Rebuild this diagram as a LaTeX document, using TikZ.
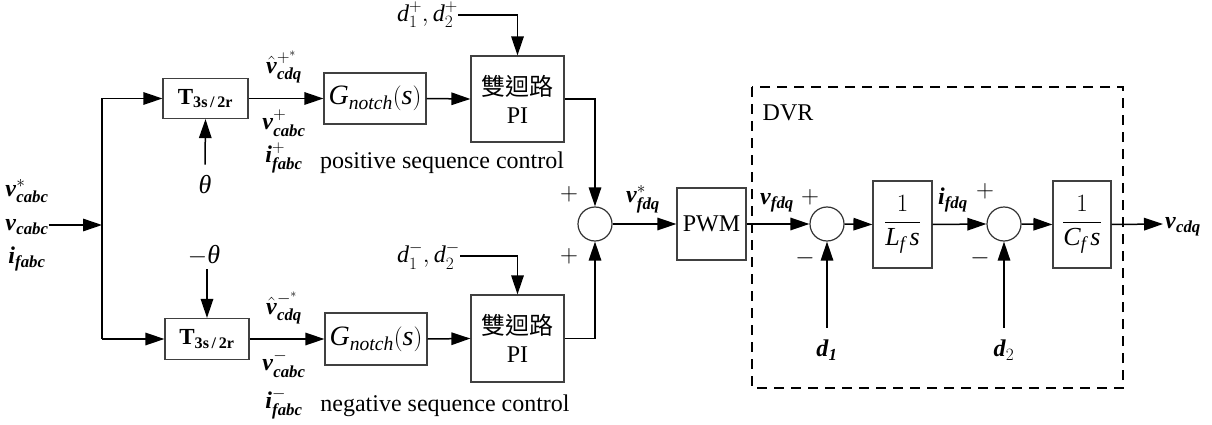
\documentclass[tikz,border=0pt]{standalone}
\usepackage{amsmath}
\usepackage{fontspec}
\setmainfont{Liberation Serif}
\newfontfamily\cjk{Noto Sans CJK TC}
\usetikzlibrary{arrows.meta}
\newcommand{\bi}[1]{\textbf{\textit{#1}}}
\newcommand{\ti}[1]{\textit{#1}}
\tikzset{
  every node/.style={font=\fontsize{24}{28}\selectfont},
  block/.style={draw=black!75, line width=1.2pt, fill=white, inner sep=0pt, align=center},
  sumc/.style={circle, draw=black!80, line width=1.2pt, fill=white, minimum size=34pt, inner sep=0pt},
  sig/.style={line width=1.5pt, -{Triangle[length=19pt,width=12.5pt]}},
  wire/.style={line width=1.5pt},
  lab/.style={inner sep=0pt},
  dvrbox/.style={line width=1.2pt, dash pattern=on 10pt off 7pt},
}
\begin{document}
\begin{tikzpicture}[x=1pt,y=-1pt]
\useasboundingbox (0,0) rectangle (1212,425);

% blocks
\node[block, minimum width=85pt, minimum height=40pt, font=\fontsize{23}{26}\selectfont] (T1) at (205.5,98.5) {$\textbf{T}_{\textbf{3s\,/\,2r}}$};
\node[block, minimum width=84pt, minimum height=41pt, font=\fontsize{23}{26}\selectfont] (T2) at (207,339) {$\textbf{T}_{\textbf{3s\,/\,2r}}$};
\node[block, minimum width=102pt, minimum height=51pt, font=\fontsize{28}{32}\selectfont] (G1) at (375,98.5) {$\ti{G}_{\ti{notch}}(\ti{s})$};
\node[block, minimum width=102pt, minimum height=52pt, font=\fontsize{28}{32}\selectfont] (G2) at (376,339) {$\ti{G}_{\ti{notch}}(\ti{s})$};
\node[block, minimum width=93pt, minimum height=86pt] (PI1) at (517.5,99) {{\cjk 雙迴路}\\PI};
\node[block, minimum width=93pt, minimum height=87pt] (PI2) at (517.5,338.5) {{\cjk 雙迴路}\\PI};
\node[sumc] (S1) at (595,224) {};
\node[block, minimum width=69pt, minimum height=72pt] (PWM) at (711.5,224) {PWM};
\node[sumc] (S2) at (827,224) {};
\node[block, minimum width=59pt, minimum height=87pt, font=\fontsize{26}{30}\selectfont] (Lf) at (902.5,224.5) {$\dfrac{1}{\ti{L}_{\ti{f}}\,\ti{s}}$};
\node[sumc] (S3) at (1004,224) {};
\node[block, minimum width=58pt, minimum height=87pt, font=\fontsize{26}{30}\selectfont] (Cf) at (1082,224.5) {$\dfrac{1}{\ti{C}_{\ti{f}}\,\ti{s}}$};

% DVR box
\draw[dvrbox] (752,87) rectangle (1123,388);
\node[lab] (dvr) at (788,113) {DVR};

% input labels
\node[lab] (vs) at (27,191) {$\bi{v}^{*}_{\bi{cabc}}$};
\node[lab] (vc) at (27,227) {$\bi{v}_{\bi{cabc}}$};
\node[lab] (if) at (27,259) {$\ti{\textbf{i}}_{\bi{fabc}}$};
\coordinate (J) at (102,225);
\draw[sig] (vc.east |- J) -- (J);
\draw[wire] (J) -- (102,98.5) coordinate (Jt);
\draw[wire] (J) -- (102,339) coordinate (Jb);
\draw[sig] (Jt) -- (T1.west);
\draw[sig] (Jb) -- (T2.west);

% theta
\node[lab, font=\fontsize{26}{30}\selectfont] (th1) at (205,185) {\ti{θ}};
\draw[sig] ([yshift=11pt]th1.north) -- (T1.south);
\node[lab, font=\fontsize{26}{30}\selectfont] (th2) at (204,255) {$-$\ti{θ}};
\draw[sig] ([yshift=-4pt]th2.south -| T2.north) -- (T2.north);

% T outputs
\draw[sig] (T1.east) -- (G1.west);
\draw[sig] (T2.east) -- (G2.west);
\node[lab] (vh1) at (284,67) {$\hat{\bi{v}}^{+^{*}}_{\bi{cdq}}$};
\node[lab] (vp1) at (284,123) {$\bi{v}^{+}_{\bi{cabc}}$};
\node[lab] (ip1) at (284,158) {$\ti{\textbf{i}}^{+}_{\bi{fabc}}$};
\node[lab] (vh2) at (284,308) {$\hat{\bi{v}}^{-^{*}}_{\bi{cdq}}$};
\node[lab] (vm2) at (284,364) {$\bi{v}^{-}_{\bi{cabc}}$};
\node[lab] (im2) at (284,404) {$\ti{\textbf{i}}^{-}_{\bi{fabc}}$};

% G to PI
\draw[sig] (G1.east) -- (PI1.west);
\draw[sig] (G2.east) -- (PI2.west);

% d inputs
\node[lab, anchor=east] (dp) at (458,15) {$\ti{d}_1^{+},\ti{d}_2^{+}$};
\draw[sig] (dp.east) -| (PI1.north);
\node[lab, anchor=east] (dm) at (460,256) {$\ti{d}_1^{-},\ti{d}_2^{-}$};
\draw[sig] (dm.east) -| (PI2.north);

\node[lab] (pos) at (442,163) {positive sequence control};
\node[lab] (neg) at (445,406) {negative sequence control};

% PI to sum
\draw[sig] (PI1.east) -| (S1.north);
\draw[sig] (PI2.east) -| (S1.south);
\node[lab] (pl1) at (569,194) {$+$};
\node[lab] (pl2) at (569,256) {$+$};

% forward path
\draw[sig] (S1.east) -- (PWM.west);
\node[lab] (vfs) at (643,199) {$\bi{v}^{*}_{\bi{fdq}}$};
\draw[sig] (PWM.east) -- (S2.west);
\node[lab] (vf) at (777,203) {$\bi{v}_{\bi{fdq}}$};
\node[lab] (pl3) at (810,197) {$+$};
\node[lab] (mi3) at (805,258) {$-$};
\draw[sig] (S2.east) -- (Lf.west);
\draw[sig] (Lf.east) -- (S3.west);
\node[lab] (ifd) at (953,200) {$\ti{\textbf{i}}_{\bi{fdq}}$};
\node[lab] (pl4) at (985,191) {$+$};
\node[lab] (mi4) at (980,258) {$-$};
\draw[sig] (S3.east) -- (Cf.west);
\coordinate (out) at (1163,224);
\draw[sig] (Cf.east) -- (out);
\node[lab, anchor=west] (vcdq) at (1165,227) {$\bi{v}_{\bi{cdq}}$};

% disturbances
\node[lab] (d1) at (827,350) {$\bi{d}_{\bi{1}}$};
\draw[sig] ([yshift=12pt]d1.north) -- (S2.south);
\node[lab] (d2) at (1004,350) {$\bi{d}_{2}$};
\draw[sig] ([yshift=12pt]d2.north) -- (S3.south);
\end{tikzpicture}
\end{document}
